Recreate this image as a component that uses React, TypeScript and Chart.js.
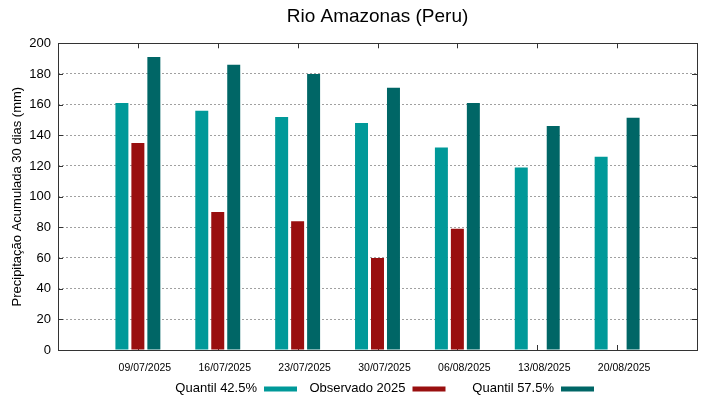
import React, { useEffect, useRef } from "react";
import { Chart, registerables } from "chart.js";

Chart.register(...registerables);

const categories = ["09/07/2025", "16/07/2025", "23/07/2025", "30/07/2025", "06/08/2025", "13/08/2025", "20/08/2025"];
const quantil425 = [161, 156, 152, 148, 132, 119, 126];
const observado2025: (number | null)[] = [135, 90, 84, 60, 79, null, null];
const quantil575 = [191, 186, 180, 171, 161, 146, 151.5];
const yTicks = [0, 20, 40, 60, 80, 100, 120, 140, 160, 180, 200];
const seriesNames = ["Quantil 42.5%", "Observado 2025", "Quantil 57.5%"];
const seriesColors = ["#009999", "#990f0f", "#006666"];

const FONT = "'Liberation Sans', Arial, sans-serif";

const framePlugin = {
  id: "frame",
  beforeDatasetsDraw(chart: any) {
    const { ctx, chartArea: a, scales } = chart;
    ctx.save();
    ctx.strokeStyle = "#333333";
    ctx.lineWidth = 1;
    ctx.beginPath();
    const tl = 5;
    for (let i = 0; i < categories.length; i++) {
      const x = Math.round(scales.x.getPixelForValue(i + 1)) + 0.5;
      ctx.moveTo(x, a.top);
      ctx.lineTo(x, a.top + tl);
      ctx.moveTo(x, a.bottom);
      ctx.lineTo(x, a.bottom - tl);
    }
    for (const v of yTicks) {
      const y = Math.round(scales.y.getPixelForValue(v)) + 0.5;
      ctx.moveTo(a.left, y);
      ctx.lineTo(a.left + tl, y);
      ctx.moveTo(a.right, y);
      ctx.lineTo(a.right - tl, y);
    }
    ctx.stroke();
    ctx.restore();
  },
  afterDatasetsDraw(chart: any) {
    const { ctx, chartArea: a } = chart;
    ctx.save();
    ctx.strokeStyle = "#333333";
    ctx.lineWidth = 1;
    ctx.strokeRect(Math.round(a.left) + 0.5, Math.round(a.top) + 0.5, Math.round(a.right - a.left), Math.round(a.bottom - a.top));
    ctx.restore();
  },
};

const legendPlugin = {
  id: "gnuLegend",
  afterDraw(chart: any) {
    const { ctx } = chart;
    ctx.save();
    ctx.font = `13px ${FONT}`;
    ctx.textAlign = "right";
    ctx.textBaseline = "middle";
    const y = 388.5;
    for (let i = 0; i < seriesNames.length; i++) {
      const xEnd = 257 + i * 148.5;
      ctx.fillStyle = "#000";
      ctx.fillText(seriesNames[i], xEnd, y);
      ctx.fillStyle = seriesColors[i];
      ctx.fillRect(xEnd + 7, 386.5, 33, 5);
    }
    ctx.restore();
  },
};

export default function App() {
  const ref = useRef<HTMLCanvasElement | null>(null);
  useEffect(() => {
    if (!ref.current) return;
    const labels = ["", ...categories, ""];
    const pad = (arr: (number | null)[]) => [null, ...arr, null];
    const chart = new Chart(ref.current, {
      type: "bar",
      data: {
        labels,
        datasets: [
          { label: seriesNames[0], data: pad(quantil425), backgroundColor: seriesColors[0] },
          { label: seriesNames[1], data: pad(observado2025), backgroundColor: seriesColors[1] },
          { label: seriesNames[2], data: pad(quantil575), backgroundColor: seriesColors[2] },
        ],
      },
      options: {
        responsive: false,
        animation: false,
        categoryPercentage: 0.6,
        barPercentage: 0.8125,
        layout: { padding: { left: 0, right: 22, top: 0, bottom: 0 } },
        plugins: {
          legend: { display: false },
          tooltip: { enabled: false },
          title: {
            display: true,
            text: "Rio Amazonas (Peru)",
            fullSize: false,
            color: "#000",
            font: { family: FONT, size: 19, weight: "normal" },
            padding: { top: 5, bottom: 15.5 },
          },
        },
        scales: {
          x: {
            type: "category",
            offset: false,
            grid: { display: false, drawTicks: false },
            border: { display: false },
            ticks: {
              autoSkip: false,
              maxRotation: 0,
              minRotation: 0,
              padding: 12,
              labelOffset: 7,
              color: "#000",
              font: { family: FONT, size: 10.5 },
            },
            afterFit: (s: any) => {
              s.height = 49;
            },
          },
          y: {
            min: 0,
            max: 200,
            ticks: {
              stepSize: 20,
              padding: 7,
              color: "#000",
              font: { family: FONT, size: 13 },
            },
            grid: {
              drawTicks: false,
              color: (c: any) => (c.tick && (c.tick.value === 0 || c.tick.value === 200) ? "rgba(0,0,0,0)" : "#a0a0a0"),
              lineWidth: 1,
            },
            border: { display: false, dash: [2, 2] },
            title: {
              display: true,
              text: "Precipitação Acumulada 30 dias (mm)",
              color: "#000",
              font: { family: FONT, size: 13 },
              padding: { top: 10, bottom: 0 },
            },
            afterFit: (s: any) => {
              s.width = 58;
            },
          },
        },
      },
      plugins: [framePlugin, legendPlugin],
    });
    return () => chart.destroy();
  }, []);
  return (
    <div style={{ position: "fixed", left: 0, top: 0, width: 719, height: 399, background: "#fff" }}>
      <canvas ref={ref} width={719} height={399} style={{ display: "block" }} />
    </div>
  );
}
